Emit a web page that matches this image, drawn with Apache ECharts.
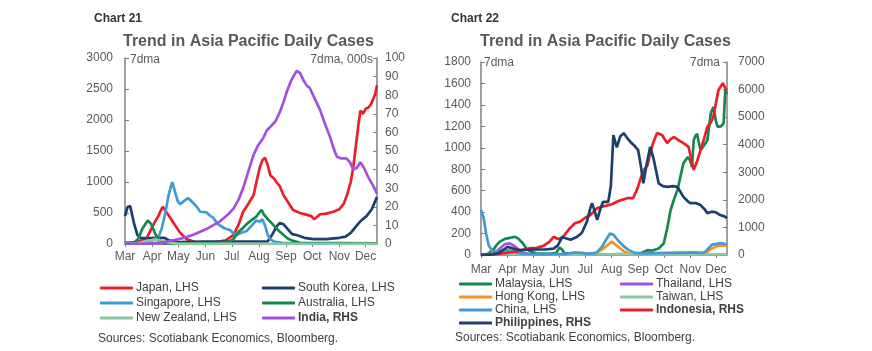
<!DOCTYPE html>
<html><head><meta charset="utf-8">
<script src="https://cdn.jsdelivr.net/npm/echarts@6/dist/echarts.min.js"></script>
<style>html,body{margin:0;padding:0;background:#fff}#c{width:872px;height:351px}</style>
</head><body><div id="c"></div>
<script>
// Day index counted from 1 Mar 2020 (0) to 14 Dec 2020 (288)
const monthNames = ['Jan','Feb','Mar','Apr','May','Jun','Jul','Aug','Sep','Oct','Nov','Dec'];
const nDays = 289;
const leftTicks21 = [0, 3000, 500];
const rightTicks21 = [0, 100, 10];
const leftTicks22 = [0, 1800, 200];
const rightTicks22 = [0, 7000, 1000];

// Chart 21 (LHS: cases, RHS India: thousands)
const japan = [[0,20],[14,30],[25,100],[32,300],[38,450],[43,600],[48,500],[55,350],[62,200],[70,80],[80,30],[100,20],[115,60],[124,145],[130,320],[135,520],[141,650],[147,790],[151,1050],[154,1230],[157,1350],[160,1390],[163,1280],[166,1110],[170,1060],[173,1000],[177,930],[181,790],[186,680],[192,550],[200,500],[208,470],[213,450],[216,400],[219,430],[223,480],[230,490],[238,520],[245,560],[250,650],[254,800],[258,1000],[261,1250],[264,1600],[267,1950],[269,2150],[272,2100],[275,2180],[278,2200],[281,2250],[284,2350],[286,2420],[288,2560]];
const southKorea = [[0,450],[3,600],[6,610],[10,350],[14,150],[18,100],[25,90],[35,100],[45,100],[50,60],[60,30],[90,40],[120,40],[150,40],[163,40],[168,145],[173,280],[177,340],[181,320],[186,240],[191,160],[196,145],[205,100],[215,80],[230,80],[245,100],[252,120],[258,180],[265,300],[270,380],[276,450],[282,560],[288,760]];
const singapore = [[0,10],[20,20],[30,50],[38,110],[42,250],[46,500],[50,800],[54,1000],[57,850],[60,700],[63,640],[68,700],[72,740],[76,690],[82,600],[86,520],[93,510],[97,460],[101,420],[105,340],[108,305],[114,250],[120,225],[124,170],[128,150],[133,180],[139,210],[145,300],[150,380],[154,360],[157,400],[160,300],[163,150],[166,80],[170,40],[180,20],[200,10],[288,5]];
const australia = [[0,5],[10,20],[15,80],[20,250],[26,380],[30,320],[35,150],[40,50],[45,15],[100,10],[118,30],[124,80],[130,200],[135,260],[139,320],[145,390],[150,440],[153,500],[156,550],[159,470],[164,390],[170,300],[176,210],[181,150],[186,90],[192,50],[200,20],[288,10]];
const newZealand = [[0,0],[15,10],[25,50],[35,70],[42,50],[50,20],[60,5],[288,2]];
const india = [[0,0.05],[20,0.1],[35,0.5],[45,1],[55,2],[65,3],[78,5],[86,6.6],[95,8.5],[108,12],[118,16],[124,19],[130,24],[135,30],[141,39],[147,48],[152,53],[158,57],[162,61],[166,63],[172,66],[177,71],[181,76],[185,82],[190,88],[196,93],[200,92],[204,88],[208,85],[211,84],[217,78],[223,72],[229,64],[234,58],[238,52],[242,47],[247,46],[253,46],[257,44],[261,40],[265,41],[269,44],[273,41],[278,36],[284,31],[288,27]];

// Chart 22 (LHS and RHS: cases)
const malaysia = [[0,0],[8,10],[14,45],[18,90],[22,125],[28,150],[34,160],[40,170],[44,150],[49,110],[53,60],[58,30],[65,15],[80,10],[88,20],[92,70],[95,50],[98,15],[110,10],[150,5],[185,10],[195,45],[200,40],[208,60],[214,110],[218,250],[222,420],[226,520],[230,605],[234,750],[237,855],[242,915],[245,880],[247,820],[249,1070],[251,1110],[253,1130],[255,1050],[257,980],[261,1020],[265,1070],[269,1320],[272,1380],[275,1250],[277,1195],[281,1200],[284,1230],[286,1540],[288,1500]];
const thailand = [[0,0],[15,10],[22,60],[28,100],[33,110],[38,90],[44,50],[50,20],[58,5],[288,5]];
const hongKong = [[0,2],[25,20],[30,35],[40,20],[50,5],[120,5],[135,20],[145,70],[153,125],[160,80],[168,30],[175,10],[200,5],[250,5],[262,10],[268,50],[275,80],[282,90],[288,85]];
const taiwan = [[0,0],[30,10],[50,5],[288,5]];
const china = [[0,420],[3,350],[6,200],[9,90],[13,40],[20,30],[28,50],[35,40],[42,25],[50,10],[70,5],[100,10],[110,25],[118,20],[125,10],[135,20],[142,80],[147,150],[151,200],[155,190],[160,140],[166,90],[172,50],[180,20],[190,15],[220,20],[250,25],[258,20],[262,25],[266,60],[270,95],[276,105],[282,110],[288,100]];
const indonesia = [[0,0],[15,20],[25,60],[35,100],[42,130],[50,200],[58,250],[65,260],[73,330],[80,480],[85,660],[90,580],[95,620],[104,970],[110,1150],[116,1210],[122,1350],[128,1450],[136,1700],[142,1750],[148,1800],[154,1850],[159,1930],[165,2000],[171,2060],[178,2060],[183,2400],[187,2790],[191,3100],[195,3260],[198,3700],[202,4100],[206,4420],[212,4350],[215,4200],[218,4060],[222,4200],[226,4280],[232,4150],[237,4060],[243,3920],[246,3500],[249,3080],[253,3400],[257,3800],[261,4200],[265,4650],[269,4800],[272,5010],[275,5500],[278,5980],[283,6230],[286,6050],[288,5980]];
const philippines = [[0,5],[10,10],[20,60],[27,200],[31,300],[38,230],[45,180],[55,190],[65,200],[75,200],[85,230],[90,350],[95,650],[100,600],[105,550],[112,650],[118,800],[124,1210],[128,1700],[130,1880],[133,1600],[136,1270],[140,1700],[143,1930],[149,1930],[152,2500],[155,4350],[159,3900],[163,4300],[167,4420],[171,4250],[175,4100],[180,3950],[184,3800],[187,3260],[190,2600],[194,3300],[198,3920],[202,3500],[208,2600],[213,2500],[218,2470],[225,2500],[230,2470],[237,2110],[242,1950],[245,1880],[252,1880],[257,1810],[262,1650],[265,1520],[270,1570],[275,1550],[280,1450],[285,1400],[288,1340]];

const categories = [];
for (let i = 0; i < nDays; i++) {
  const d = new Date(Date.UTC(2020, 2, 1 + i));
  categories.push(d.toISOString().slice(0, 10));
}
const isMonthStart = (idx, val) => val.slice(8, 10) === '01';
const monthLabel = (val) => monthNames[parseInt(val.slice(5, 7), 10) - 1];

const C = {
  red: '#EE1D2A', navy: '#1F3E70', lblue: '#3F9AD6', green: '#14884D',
  lgreen: '#8CC6A2', purple: '#A450DE', orange: '#F7941D'
};
const gray = '#595959';
const axisColor = '#808080';
const font = 'Liberation Sans, Arial, sans-serif';

function xAxis(gridIndex, margin) {
  return {
    type: 'category', gridIndex, data: categories, boundaryGap: false,
    axisLine: { lineStyle: { color: axisColor, width: 1 } },
    axisTick: { interval: isMonthStart, length: 3, lineStyle: { color: axisColor } },
    axisLabel: { interval: isMonthStart, formatter: monthLabel, color: gray, fontSize: 12, fontFamily: font, margin }
  };
}
function yAxis(gridIndex, t, pos, margin) {
  return {
    type: 'value', gridIndex, position: pos, min: t[0], max: t[1], interval: t[2],
    axisLine: { show: true, lineStyle: { color: axisColor, width: 1.5 } },
    axisTick: { show: true, inside: true, length: 4, lineStyle: { color: axisColor } },
    splitLine: { show: false },
    axisLabel: { color: gray, fontSize: 12, fontFamily: font, margin, formatter: v => String(v) }
  };
}
function line(name, data, color, xi, yi) {
  return {
    name, type: 'line', xAxisIndex: xi, yAxisIndex: yi, data,
    showSymbol: false, symbol: 'none', animation: false,
    lineStyle: { color, width: 2.7 }, itemStyle: { color }
  };
}
const boldNames = ['India, RHS', 'Indonesia, RHS', 'Philippines, RHS'];
function legend(names, left, top, gap) {
  return {
    data: names, left, top, orient: 'vertical', itemGap: gap,
    itemWidth: 33, itemHeight: 3, icon: 'roundRect', padding: 0,
    textStyle: { color: '#404040', fontSize: 12, fontFamily: font, padding: [0, 0, 0, -2],
      rich: { b: { fontWeight: 'bold', color: '#404040', fontSize: 12, fontFamily: font } } },
    formatter: n => boldNames.includes(n) ? '{b|' + n + '}' : n,
    selectedMode: false
  };
}

const chart = echarts.init(document.getElementById('c'), null, { renderer: 'canvas' });
chart.setOption({
  animation: false,
  backgroundColor: '#fff',
  title: [
    { text: 'Chart 21', left: 89, top: 8, textStyle: { fontSize: 12, fontWeight: 'bold', color: '#333', fontFamily: font } },
    { text: 'Trend in Asia Pacific Daily Cases', left: 118, top: 29, textStyle: { fontSize: 16, fontWeight: 'bold', color: gray, fontFamily: font } },
    { text: 'Chart 22', left: 446, top: 8, textStyle: { fontSize: 12, fontWeight: 'bold', color: '#333', fontFamily: font } },
    { text: 'Trend in Asia Pacific Daily Cases', left: 475, top: 29, textStyle: { fontSize: 16, fontWeight: 'bold', color: gray, fontFamily: font } }
  ],
  grid: [
    { left: 125, right: 495, top: 58, bottom: 107 },
    { left: 481, right: 145, top: 62, bottom: 96 }
  ],
  xAxis: [xAxis(0, 7), xAxis(1, 9)],
  yAxis: [
    yAxis(0, leftTicks21, 'left', 12), yAxis(0, rightTicks21, 'right', 8),
    yAxis(1, leftTicks22, 'left', 10), yAxis(1, rightTicks22, 'right', 11)
  ],
  legend: [
    legend(['Japan, LHS', 'Singapore, LHS', 'New Zealand, LHS'], 100, 282, 3),
    legend(['South Korea, LHS', 'Australia, LHS', 'India, RHS'], 262, 282, 3),
    legend(['Malaysia, LHS', 'Hong Kong, LHS', 'China, LHS', 'Philippines, RHS'], 459, 278, 1),
    legend(['Thailand, LHS', 'Taiwan, LHS', 'Indonesia, RHS'], 620, 278, 1)
  ],
  series: [
    line('Japan, LHS', japan, C.red, 0, 0),
    line('South Korea, LHS', southKorea, C.navy, 0, 0),
    line('Singapore, LHS', singapore, C.lblue, 0, 0),
    line('Australia, LHS', australia, C.green, 0, 0),
    line('New Zealand, LHS', newZealand, C.lgreen, 0, 0),
    line('India, RHS', india, C.purple, 0, 1),
    line('Malaysia, LHS', malaysia, C.green, 1, 2),
    line('Thailand, LHS', thailand, C.purple, 1, 2),
    line('Hong Kong, LHS', hongKong, C.orange, 1, 2),
    line('Taiwan, LHS', taiwan, C.lgreen, 1, 2),
    line('China, LHS', china, C.lblue, 1, 2),
    line('Indonesia, RHS', indonesia, C.red, 1, 3),
    line('Philippines, RHS', philippines, C.navy, 1, 3)
  ],
  graphic: [
    { type: 'text', left: 130, top: 54, style: { text: '7dma', fill: gray, fontSize: 12, fontFamily: font } },
    { type: 'text', right: 499, top: 54, style: { text: '7dma, 000s', fill: gray, fontSize: 12, fontFamily: font } },
    { type: 'text', left: 484, top: 57, style: { text: '7dma', fill: gray, fontSize: 12, fontFamily: font } },
    { type: 'text', right: 152, top: 57, style: { text: '7dma', fill: gray, fontSize: 12, fontFamily: font } },
    { type: 'text', left: 98, top: 333, style: { text: 'Sources: Scotiabank Economics, Bloomberg.', fill: '#404040', fontSize: 12, fontFamily: font } },
    { type: 'text', left: 455, top: 332, style: { text: 'Sources: Scotiabank Economics, Bloomberg.', fill: '#404040', fontSize: 12, fontFamily: font } }
  ]
});
</script>
</body></html>
